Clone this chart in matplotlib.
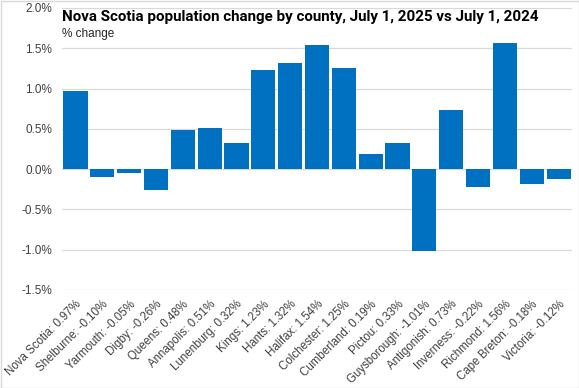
import matplotlib.pyplot as plt
from matplotlib.patches import Rectangle
from matplotlib.ticker import FuncFormatter

counties = ["Nova Scotia", "Shelburne", "Yarmouth", "Digby", "Queens", "Annapolis",
            "Lunenburg", "Kings", "Hants", "Halifax", "Colchester", "Cumberland",
            "Pictou", "Guysborough", "Antigonish", "Inverness", "Richmond",
            "Cape Breton", "Victoria"]
change_pct = [0.97, -0.10, -0.05, -0.26, 0.48, 0.51, 0.32, 1.23, 1.32, 1.54, 1.25,
              0.19, 0.33, -1.01, 0.73, -0.22, 1.56, -0.18, -0.12]
labels = [f"{c}: {v:.2f}%" for c, v in zip(counties, change_pct)]

plt.rcParams['font.family'] = ['Liberation Sans', 'DejaVu Sans']

fig = plt.figure(figsize=(5.79, 3.88), dpi=100)
ax = fig.add_axes([62/579, 1 - 290/388, 510/579, 282/388])

x = range(len(counties))
ax.bar(x, change_pct, width=0.9, color="#0070C0", zorder=3)

ax.set_xlim(-0.5, len(counties) - 0.5)
ax.set_ylim(-1.5, 2.0)
ax.set_yticks([-1.5, -1.0, -0.5, 0.0, 0.5, 1.0, 1.5, 2.0])
ax.yaxis.set_major_formatter(FuncFormatter(lambda v, p: f"{v:.1f}%"))
ax.grid(axis="y", color="#d9d9d9", linewidth=0.9, zorder=0)
ax.set_xticks(list(x))
ax.set_xticklabels(labels, rotation=45, ha="right", rotation_mode="anchor", fontsize=8.3, color="#404040")
ax.tick_params(axis="x", length=0, pad=6)
ax.tick_params(axis="y", length=0, pad=7, labelsize=8.5, labelcolor="#404040")
for s in ax.spines.values():
    s.set_visible(False)

fig.text(62/579, 1 - 17/388, "Nova Scotia population change by county, July 1, 2025 vs July 1, 2024",
         fontsize=10.9, fontweight="bold", va="center", ha="left", family=["Roboto", "DejaVu Sans"])
fig.text(62/579, 1 - 34/388, "% change", fontsize=8.5, va="center", ha="left", color="#262626")

fig.patches.append(Rectangle((0.5/579, 0.5/388), 1 - 1/579, 1 - 1/388, transform=fig.transFigure,
                             fill=False, edgecolor="#d9d9d9", linewidth=1))

fig.savefig("out.png", dpi=100)
